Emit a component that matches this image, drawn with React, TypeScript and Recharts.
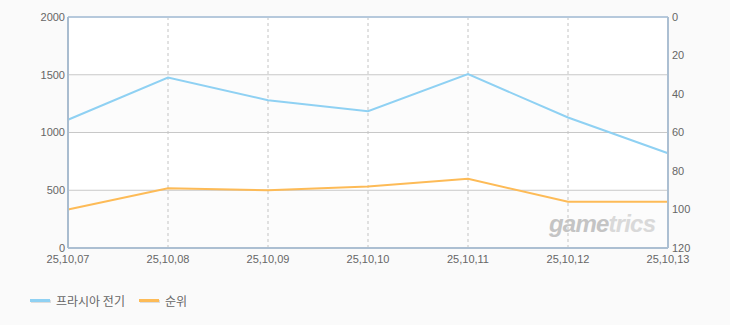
import React from 'react';
import {
  LineChart,
  Line,
  XAxis,
  YAxis,
  CartesianGrid,
  Legend,
  ReferenceLine,
} from 'recharts';

const categories = ['25,10,07', '25,10,08', '25,10,09', '25,10,10', '25,10,11', '25,10,12', '25,10,13'];
const gameValues = [1110, 1475, 1280, 1185, 1505, 1130, 820];
const rankValues = [100, 89, 90, 88, 84, 96, 96];
const leftTicks = [0, 500, 1000, 1500, 2000];
const rightTicks = [0, 20, 40, 60, 80, 100, 120];
const seriesNames = ['프라시아 전기', '순위'];

const BLUE = '#8fd1f3';
const ORANGE = '#fdbb57';

const data = categories.map((c, i) => ({ name: c, game: gameValues[i], rank: rankValues[i] }));

const tickStyle = { fontFamily: '"Liberation Sans", Arial, sans-serif', fontSize: 11, fill: '#666' };

const LegendContent = () => (
  <div
    style={{
      height: 30,
      display: 'flex',
      alignItems: 'center',
      paddingLeft: 30,
      fontFamily: '"Noto Sans CJK KR", sans-serif',
      fontSize: 12,
      color: '#666',
    }}
  >
    <span style={{ display: 'inline-block', width: 20, height: 3, background: BLUE, marginRight: 6, boxShadow: '1px 1px 0 #ddd' }} />
    <span style={{ marginRight: 14 }}>{seriesNames[0]}</span>
    <span style={{ display: 'inline-block', width: 20, height: 3, background: ORANGE, marginRight: 6, boxShadow: '1px 1px 0 #ddd' }} />
    <span>{seriesNames[1]}</span>
  </div>
);

export default function App() {
  return (
    <div style={{ position: 'absolute', left: 0, top: 0, width: 730, height: 325, background: '#fafafa' }}>
      <LineChart width={730} height={325} data={data} margin={{ top: 17, right: 12, left: 8, bottom: 10 }}>
        <CartesianGrid
          yAxisId="left"
          vertical={false}
          stroke="#c8c8c8"
          horizontalFill={['#ffffff', '#fcfcfc']}
          fillOpacity={1}
        />
        <CartesianGrid yAxisId="left" horizontal={false} stroke="#c4c4c4" strokeDasharray="3 3" />
        <XAxis
          dataKey="name"
          tickLine={false}
          tickSize={0}
          tickMargin={7}
          height={37}
          interval={0}
          axisLine={{ stroke: '#acbfd2', strokeWidth: 2 }}
          tick={tickStyle}
        />
        <YAxis
          yAxisId="left"
          domain={[0, 2000]}
          ticks={leftTicks}
          width={60}
          tickLine={false}
          tickSize={0}
          tickMargin={3}
          axisLine={{ stroke: '#a9bccf', strokeWidth: 2 }}
          tick={tickStyle}
          interval={0}
        />
        <YAxis
          yAxisId="right"
          orientation="right"
          domain={[0, 120]}
          ticks={rightTicks}
          reversed
          width={50}
          tickLine={false}
          tickSize={0}
          tickMargin={4}
          axisLine={{ stroke: '#acbfd2', strokeWidth: 2 }}
          tick={tickStyle}
          interval={0}
        />
        <ReferenceLine yAxisId="left" y={2000} stroke="#b6c9dc" strokeWidth={2} />
        <Line
          yAxisId="left"
          type="linear"
          dataKey="game"
          name={seriesNames[0]}
          stroke={BLUE}
          strokeWidth={2}
          dot={false}
          activeDot={false}
          isAnimationActive={false}
        />
        <Line
          yAxisId="right"
          type="linear"
          dataKey="rank"
          name={seriesNames[1]}
          stroke={ORANGE}
          strokeWidth={2}
          dot={false}
          activeDot={false}
          isAnimationActive={false}
        />
        <Legend verticalAlign="bottom" align="left" height={30} wrapperStyle={{ left: 0, width: 730 }} content={<LegendContent />} />
      </LineChart>
      <div
        style={{
          position: 'absolute',
          left: 549,
          top: 210,
          fontFamily: '"Liberation Sans", Arial, sans-serif',
          fontWeight: 'bold',
          fontStyle: 'italic',
          fontSize: 24,
          letterSpacing: -0.8,
          lineHeight: '28px',
          pointerEvents: 'none',
        }}
      >
        <span style={{ color: '#c4c4c4' }}>game</span>
        <span style={{ color: '#d9d9d9' }}>trics</span>
      </div>
    </div>
  );
}
